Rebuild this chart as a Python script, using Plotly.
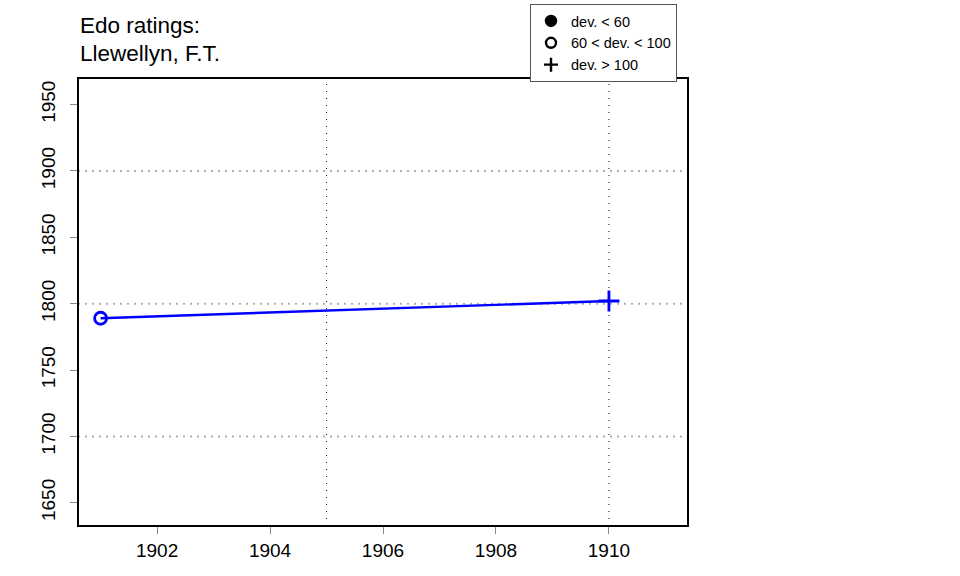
import plotly.graph_objects as go

# data
years = [1901, 1910]
ratings = [1789, 1802]
dev_class = ["60 < dev. < 100", "dev. > 100"]

legend_labels = ["dev. < 60", "60 < dev. < 100", "dev. > 100"]
legend_symbols = ["circle", "circle-open", "cross-thin-open"]
symbol_of = dict(zip(legend_labels, legend_symbols))

x_grid = [1905, 1910]
y_grid = [1700, 1800, 1900]

fig = go.Figure()

fig.add_trace(go.Scatter(
    x=years, y=ratings, mode="lines",
    line=dict(color="blue", width=2.4),
    showlegend=False, hoverinfo="skip",
))
fig.add_trace(go.Scatter(
    x=years, y=ratings, mode="markers",
    marker=dict(
        symbol=[symbol_of[c] for c in dev_class],
        size=[12, 15], color="blue", opacity=1,
        line=dict(color="blue", width=2.8),
    ),
    showlegend=False,
))

# legend only entries
for lab, sym in zip(legend_labels, legend_symbols):
    fig.add_trace(go.Scatter(
        x=[None], y=[None], mode="markers", name=lab,
        marker=dict(symbol=sym, size=10, color="black",
                    line=dict(color="black", width=2.4)),
    ))

shapes = []
for gx in x_grid:
    shapes.append(dict(type="line", xref="x", yref="paper", x0=gx, x1=gx, y0=0, y1=1,
                       line=dict(color="#111111", width=1, dash="1px,6px"), layer="below"))
for gy in y_grid:
    shapes.append(dict(type="line", xref="paper", yref="y", x0=0, x1=1, y0=gy, y1=gy,
                       line=dict(color="#b0b0b0", width=2, dash="2px,5px"), layer="below"))
# plot box
shapes.append(dict(type="rect", xref="paper", yref="paper", x0=0, x1=1, y0=0, y1=1,
                   line=dict(color="black", width=2)))

font_name = "Liberation Sans, Arial, sans-serif"
axis_font = dict(family=font_name, size=19, color="black")

fig.update_layout(
    width=960, height=576,
    margin=dict(l=78, r=272, t=78, b=50, autoexpand=False),
    plot_bgcolor="white", paper_bgcolor="white",
    shapes=shapes,
    xaxis=dict(range=[1900.6, 1911.4], tick0=1900, dtick=2, showgrid=False, zeroline=False,
               ticks="outside", ticklen=7, tickcolor="#888888", tickfont=axis_font,
               showline=False, automargin=False),
    yaxis=dict(range=[1632.5, 1970], tick0=1650, dtick=50, showgrid=False, zeroline=False,
               ticks="outside", ticklen=7, tickcolor="#888888", tickfont=axis_font,
               tickangle=-90, showline=False, automargin=False, ticklabelstandoff=7),
    legend=dict(
        xref="paper", yref="paper", x=(530 - 78) / 610, y=1 + (78 - 4) / 448,
        xanchor="left", yanchor="top",
        bordercolor="#555555", borderwidth=1, bgcolor="white",
        font=dict(family=font_name, size=14.5, color="black"),
        itemwidth=30, tracegroupgap=0,
    ),
    annotations=[
        dict(text="Edo ratings:", xref="paper", yref="paper", x=0, y=1, yshift=53,
             xanchor="left", yanchor="middle", showarrow=False,
             font=dict(family=font_name, size=22.5, color="black")),
        dict(text="Llewellyn, F.T.", xref="paper", yref="paper", x=0, y=1, yshift=25,
             xanchor="left", yanchor="middle", showarrow=False,
             font=dict(family=font_name, size=22.5, color="black")),
    ],
)

# drop the default 8px page margin so the figure sits at the window corner
fig.write_html("out.html", config={"displayModeBar": False},
               post_script="document.body.style.margin='0px';")
